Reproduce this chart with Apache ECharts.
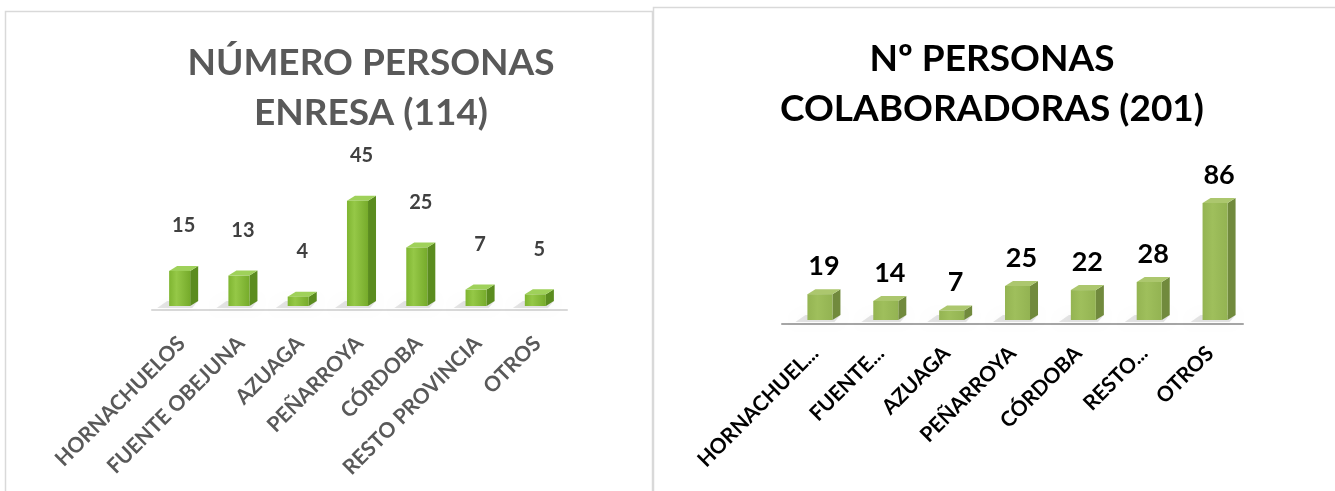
<!DOCTYPE html>
<html><head><meta charset="utf-8">
<script src="https://cdn.jsdelivr.net/npm/echarts@6/dist/echarts.min.js"></script>
<style>html,body{margin:0;padding:0;background:#fff;overflow:hidden}#c{width:1335px;height:491px}</style>
</head><body><div id="c"></div>
<script>
// ---- data ----
const categories = ['HORNACHUELOS', 'FUENTE OBEJUNA', 'AZUAGA', 'PEÑARROYA', 'CÓRDOBA', 'RESTO PROVINCIA', 'OTROS'];
const enresaValues = [15, 13, 4, 45, 25, 7, 5];
const colabTickLabels = ['HORNACHUEL...', 'FUENTE...', 'AZUAGA', 'PEÑARROYA', 'CÓRDOBA', 'RESTO...', 'OTROS'];
const colabValues = [19, 14, 7, 25, 22, 28, 86];
const leftTitle = 'NÚMERO PERSONAS\nENRESA (114)';
const rightTitle = 'Nº PERSONAS\nCOLABORADORAS (201)';

const FONT = 'Lato, "Open Sans", sans-serif';

function bar3D(cfg) {
  return function (params, api) {
    const idx = api.value(0), val = api.value(1);
    const top = api.coord([idx, val]);
    const base = api.coord([idx, 0]);
    const band = api.size([1, 0])[0];
    const w = band * cfg.ratio, d = cfg.depth, dy = cfg.depthY;
    const cx = top[0] + cfg.shift;
    const x0 = cx - (w + d) / 2, x1 = x0 + w;
    const yT = top[1] - cfg.lift, yB = base[1] - cfg.lift;
    return {
      type: 'group',
      children: [
        { type: 'polygon', shape: { points: [[x0 - 12, yB + 2], [x0 - 2, yB - dy], [x1 + d, yB - dy], [x1 + 2, yB + 2]] },
          style: { fill: 'rgba(0,0,0,0.10)', shadowBlur: 8, shadowColor: 'rgba(0,0,0,0.25)' } },
        { type: 'polygon', shape: { points: [[x1, yT], [x1 + d, yT - dy], [x1 + d, yB - dy], [x1, yB]] },
          style: { fill: cfg.side } },
        { type: 'polygon', shape: { points: [[x0, yT], [x0 + d, yT - dy], [x1 + d, yT - dy], [x1, yT]] },
          style: { fill: cfg.topFace } },
        { type: 'rect', shape: { x: x0, y: yT, width: w, height: yB - yT },
          style: { fill: new echarts.graphic.LinearGradient(0, 0, 1, 0, cfg.front) } },
        { type: 'text', style: { text: String(val), x: cx, y: yT - dy - cfg.labelGap, align: 'center', verticalAlign: 'middle',
            fill: cfg.labelColor, fontSize: cfg.labelSize, fontWeight: 'bold', fontFamily: FONT } }
      ]
    };
  };
}

const chart = echarts.init(document.getElementById('c'), null, { renderer: 'canvas' });
chart.setOption({
  animation: false,
  backgroundColor: '#ffffff',
  graphic: [
    { type: 'rect', shape: { x: 5.5, y: 11.5, width: 647, height: 500 }, style: { fill: 'none', stroke: '#d9d9d9', lineWidth: 1.5 }, z: -1 },
    { type: 'rect', shape: { x: 653.5, y: 7.5, width: 700, height: 500 }, style: { fill: 'none', stroke: '#d9d9d9', lineWidth: 1.5 }, z: -1 }
  ],
  title: [
    { text: leftTitle, left: 366, top: 33, textAlign: 'center',
      textStyle: { fontFamily: FONT, fontSize: 37, fontWeight: 'bold', color: '#595959', lineHeight: 50 } },
    { text: rightTitle, left: 987, top: 29, textAlign: 'center',
      textStyle: { fontFamily: FONT, fontSize: 37, fontWeight: 'bold', color: '#000000', lineHeight: 50 } }
  ],
  grid: [
    { left: 152, right: 768, top: 193, bottom: 181 },
    { left: 782, right: 92, top: 188, bottom: 167 }
  ],
  xAxis: [
    { type: 'category', gridIndex: 0, data: categories,
      axisLine: { lineStyle: { color: '#d9d9d9', width: 2 } }, axisTick: { show: false },
      axisLabel: { rotate: 45, margin: 30, interval: 0, fontFamily: FONT, fontSize: 21, fontWeight: 'bold', color: '#595959' } },
    { type: 'category', gridIndex: 1, data: colabTickLabels,
      axisLine: { lineStyle: { color: '#a6a6a6', width: 2 } }, axisTick: { show: false },
      axisLabel: { rotate: 45, margin: 26, interval: 0, fontFamily: FONT, fontSize: 21, fontWeight: 'bold', color: '#000000' } }
  ],
  yAxis: [
    { type: 'value', gridIndex: 0, min: 0, max: 50, show: false, splitLine: { show: false } },
    { type: 'value', gridIndex: 1, min: 0, max: 100, show: false, splitLine: { show: false } }
  ],
  series: [
    { type: 'custom', xAxisIndex: 0, yAxisIndex: 0,
      data: enresaValues.map((v, i) => [i, v]),
      renderItem: bar3D({ ratio: 0.355, depth: 8, depthY: 5, shift: 2, lift: 4, labelGap: 40, labelSize: 20, labelColor: '#404040',
        side: '#5b8c1f', topFace: '#9fd15a', front: [{ offset: 0, color: '#7fb531' }, { offset: 0.35, color: '#95c847' }, { offset: 1, color: '#76ab2b' }] }) },
    { type: 'custom', xAxisIndex: 1, yAxisIndex: 1,
      data: colabValues.map((v, i) => [i, v]),
      renderItem: bar3D({ ratio: 0.38, depth: 8, depthY: 5, shift: 9, lift: 4, labelGap: 23, labelSize: 27, labelColor: '#000000',
        side: '#718a3d', topFace: '#acc76e', front: [{ offset: 0, color: '#94b452' }, { offset: 0.4, color: '#9fbf5c' }, { offset: 1, color: '#93b352' }] }) }
  ]
});
</script>
</body></html>
